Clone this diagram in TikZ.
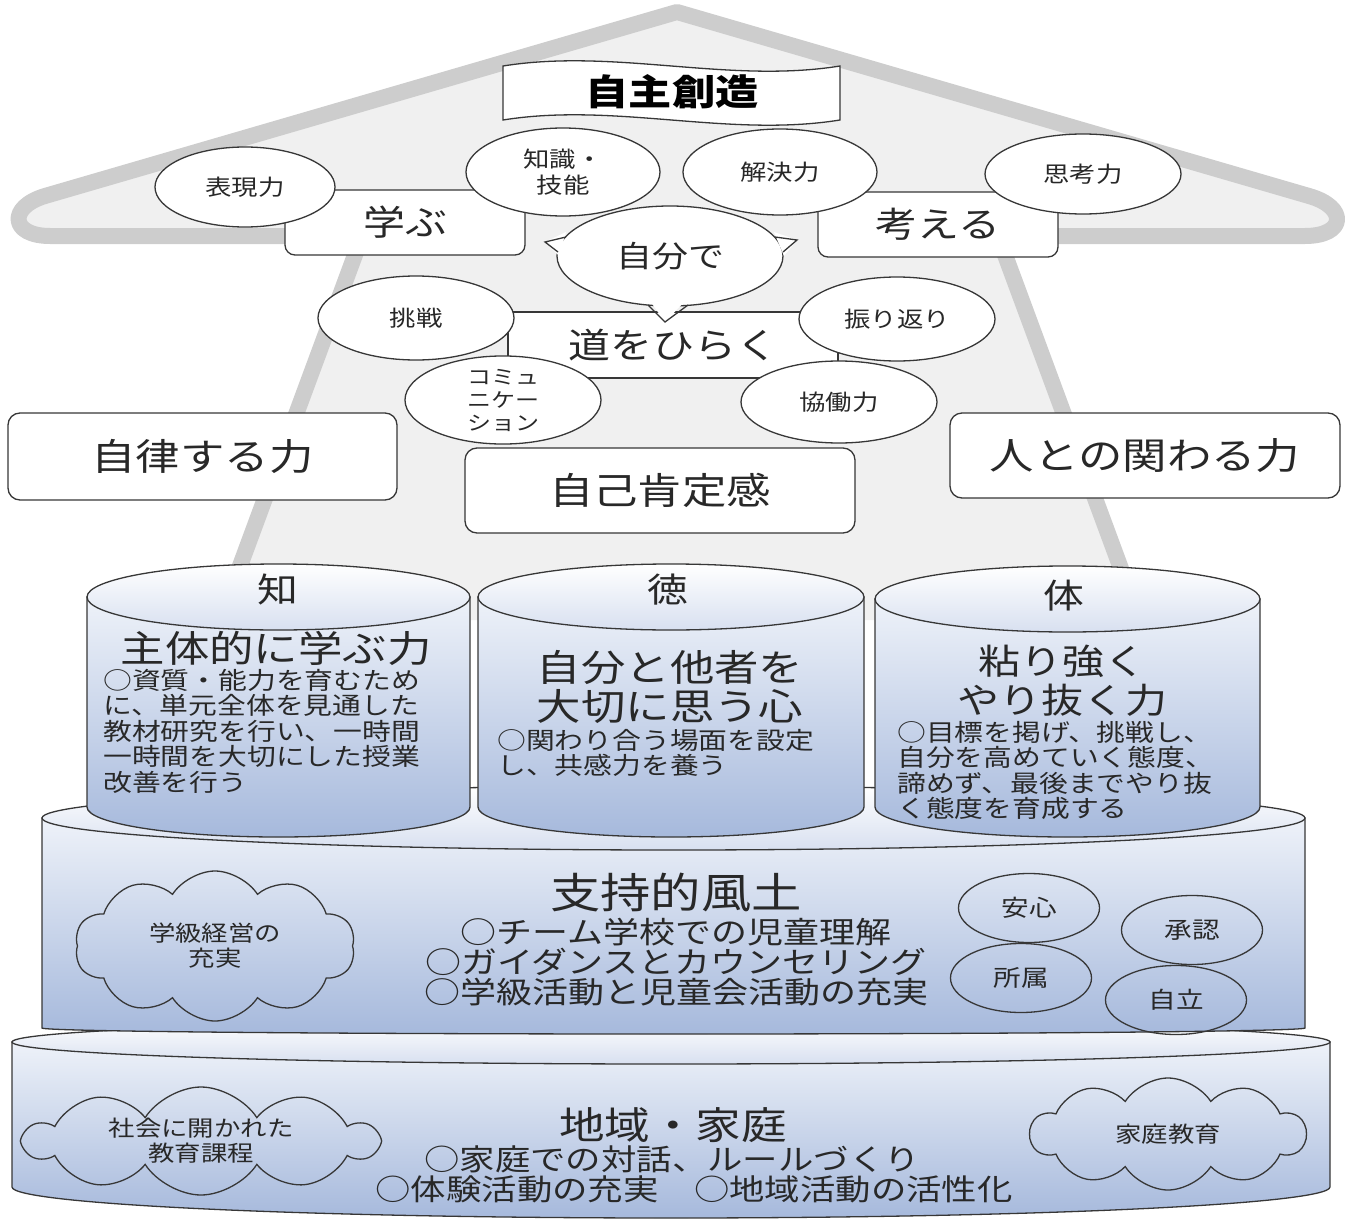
\documentclass[tikz,border=0pt]{standalone}
\usepackage{fontspec}
\setmainfont{Noto Sans CJK JP}[FakeStretch=1.2]
\usetikzlibrary{shapes.geometric,shapes.symbols}
\definecolor{band}{RGB}{205,205,205}
\definecolor{arrowfill}{RGB}{240,240,240}
\definecolor{ink}{RGB}{40,40,40}
\definecolor{edge}{RGB}{55,55,55}
\definecolor{cylT}{RGB}{238,242,249}
\definecolor{cylB}{RGB}{166,185,220}
\definecolor{faceB}{RGB}{216,224,240}
\newcommand{\jfs}[2]{\fontsize{#1pt}{#2pt}\selectfont}
\begin{document}
\begin{tikzpicture}[x=1pt,y=-1pt,
  ln/.style={draw=edge, line width=1.3pt},
  oval/.style={ln, fill=white, ellipse, inner sep=0pt, align=center, text=ink, font=\jfs{22}{26}},
  ring/.style={ln, ellipse, inner sep=0pt, minimum width=141, minimum height=69, text=ink, font=\jfs{23}{26}},
  rbox/.style={ln, fill=white, rounded corners=10pt, inner sep=0pt, text=ink},
  puff/.style={ln, cloud, cloud puffs=10, cloud puff arc=115, cloud ignores aspect, inner sep=0pt, align=center, text=ink, font=\jfs{22}{25}},
  lbl/.style={inner sep=0pt, text=ink},
]
\useasboundingbox (0,0) rectangle (1353,1223);
% ---- big arrow
\fill[arrowfill] (677,12) -- (45,196) .. controls (8,207) and (10,236) .. (50,236) -- (362,236) -- (220,620) -- (1140,620) -- (998,236) -- (1305,236) .. controls (1346,236) and (1348,207) .. (1309,196) -- cycle;
\draw[band, line width=16pt, line join=round] (220,620) -- (362,236) -- (50,236) .. controls (10,236) and (8,207) .. (45,196) -- (677,12) -- (1309,196) .. controls (1348,207) and (1346,236) .. (1305,236) -- (998,236) -- (1140,620);
% ---- banner
\draw[ln, fill=white] (503,66) .. controls (615,48) and (728,84) .. (840,66) -- (840,120) .. controls (728,138) and (615,102) .. (503,120) -- cycle;
\node[lbl, font=\bfseries\jfs{36}{40}, text=black] (banner) at (672,92) {自主創造};
% ---- boxes
\node[rbox, minimum width=240, minimum height=65, font=\jfs{35}{40}] (manabu) at (405,222.5) {学ぶ};
\node[rbox, minimum width=240, minimum height=65, font=\jfs{35}{40}] (kangaeru) at (938,224.5) {考える};
\node[ln, fill=white, minimum width=330, minimum height=66, inner sep=0pt, text=ink, font=\jfs{35}{40}] (michi) at (673,345) {道をひらく};
% ---- ovals
\node[oval, minimum width=180, minimum height=80] (hyogen) at (245,187) {表現力};
\node[oval, minimum width=194, minimum height=88] (chishiki) at (563,172) {知識・\\技能};
\node[oval, minimum width=194, minimum height=86] (kaiketsu) at (780,172) {解決力};
\node[oval, minimum width=196, minimum height=80] (shiko) at (1083,174) {思考力};
\node[oval, minimum width=196, minimum height=84] (chosen) at (416,318) {挑戦};
\node[oval, minimum width=196, minimum height=84] (furikaeri) at (897,319) {振り返り};
\node[oval, minimum width=196, minimum height=82, font=\jfs{20}{23}] (comm) at (503,400) {コミュ\\ニケー\\ション};
\node[oval, minimum width=196, minimum height=82] (kyodo) at (839,402) {協働力};
% ---- speech bubble
\node[oval, minimum width=226, minimum height=100, font=\jfs{30}{36}] (jibun) at (670,256) {自分で};
\fill[white] (648,298) -- (665,322) -- (688,298) -- cycle;
\draw[ln, line join=miter] (648,305) -- (665,322) -- (688,305);
\fill[white] (566,232) -- (545,242) -- (559,256) -- cycle;
\draw[ln] (566,237) -- (545,242) -- (558,252);
\fill[white] (774,232) -- (797,240) -- (784,256) -- cycle;
\draw[ln] (775,237) -- (797,240) -- (783,252);
% ---- three boxes
\node[rbox, rounded corners=12pt, minimum width=389, minimum height=87, font=\jfs{37}{44}] (jiritsu) at (202.5,456.5) {自律する力};
\node[rbox, rounded corners=12pt, minimum width=390, minimum height=85, font=\jfs{37}{44}] (hito) at (1145,455.5) {人との関わる力};
\node[rbox, rounded corners=12pt, minimum width=390, minimum height=85, font=\jfs{37}{44}] (jiko) at (660,490.5) {自己肯定感};
% ---- bottom tier
\path[ln, top color=cylT, bottom color=cylB] (12,1042) -- (12,1187) arc[start angle=180, end angle=0, x radius=659, y radius=31] -- (1330,1042) -- cycle;
\path[ln, top color=white, bottom color=faceB] (671,1042) ellipse[x radius=659, y radius=22];
% ---- middle tier
\path[ln, top color=cylT, bottom color=cylB] (42,818) -- (42,1028) arc[start angle=180, end angle=0, x radius=631.5, y radius=6] -- (1305,818) -- cycle;
\path[ln, top color=white, bottom color=faceB] (673.5,818) ellipse[x radius=631.5, y radius=32];
% ---- top cylinders
\path[ln, top color=cylT, bottom color=cylB] (87,597) -- (87,807) arc[start angle=180, end angle=0, x radius=191.5, y radius=30] -- (470,597) -- cycle;
\path[ln, top color=white, bottom color=faceB] (278.5,597) ellipse[x radius=191.5, y radius=33];
\path[ln, top color=cylT, bottom color=cylB] (478,597) -- (478,807) arc[start angle=180, end angle=0, x radius=193, y radius=30] -- (864,597) -- cycle;
\path[ln, top color=white, bottom color=faceB] (671,597) ellipse[x radius=193, y radius=33];
\path[ln, top color=cylT, bottom color=cylB] (875,599) -- (875,807) arc[start angle=180, end angle=0, x radius=192.5, y radius=30] -- (1260,599) -- cycle;
\path[ln, top color=white, bottom color=faceB] (1067.5,599) ellipse[x radius=192.5, y radius=33];
% ---- cylinder texts
\node[lbl, font=\jfs{34}{40}] (chiH) at (278,590) {知};
\node[lbl, font=\jfs{37}{44}] (chiT) at (276,648) {主体的に学ぶ力};
\node[lbl, font=\jfs{24}{25.5}, align=left, anchor=north west] (chiB) at (103,669) {○資質・能力を育むため\\に、単元全体を見通した\\教材研究を行い、一時間\\一時間を大切にした授業\\改善を行う};
\node[lbl, font=\jfs{34}{40}] (tokuH) at (668,590) {徳};
\node[lbl, font=\jfs{37}{39}, align=center] (tokuT) at (670,686.5) {自分と他者を\\大切に思う心};
\node[lbl, font=\jfs{24}{25.5}, align=left, anchor=north west] (tokuB) at (497,729) {○関わり合う場面を設定\\し、共感力を養う};
\node[lbl, font=\jfs{34}{40}] (taiH) at (1064,596) {体};
\node[lbl, font=\jfs{35}{39}, align=center] (taiT) at (1062,680.5) {粘り強く\\やり抜く力};
\node[lbl, font=\jfs{24}{25.5}, align=left, anchor=north west] (taiB) at (897,721) {○目標を掲げ、挑戦し、\\自分を高めていく態度、\\諦めず、最後までやり抜\\く態度を育成する};
% ---- middle tier content
\node[lbl, font=\jfs{42}{48}] (shiji) at (676,893) {支持的風土};
\node[lbl, font=\jfs{30}{30}, align=center] (shijiB) at (676,962) {○チーム学校での児童理解\\○ガイダンスとカウンセリング\\○学級活動と児童会活動の充実};
\node[puff, minimum width=280, minimum height=150] (gakkyu) at (215,946) {学級経営の\\充実};
\node[ring] (anshin) at (1029,908) {安心};
\node[ring] (shonin) at (1192,930) {承認};
\node[ring] (shozoku) at (1021,978) {所属};
\node[ring] (jiritsu2) at (1176,1000) {自立};
% ---- bottom tier content
\node[lbl, font=\jfs{38}{44}] (chiiki) at (673,1125) {地域・家庭};
\node[lbl, font=\jfs{29.5}{30}] (chiikiB1) at (672,1159) {○家庭での対話、ルールづくり};
\node[lbl, font=\jfs{29.5}{30}] (chiikiB2) at (694,1189) {○体験活動の充実　○地域活動の活性化};
\node[puff, minimum width=352, minimum height=108] (shakai) at (201,1141) {社会に開かれた\\教育課程};
\node[puff, minimum width=275, minimum height=112] (katei) at (1168,1134) {家庭教育};
\end{tikzpicture}
\end{document}
